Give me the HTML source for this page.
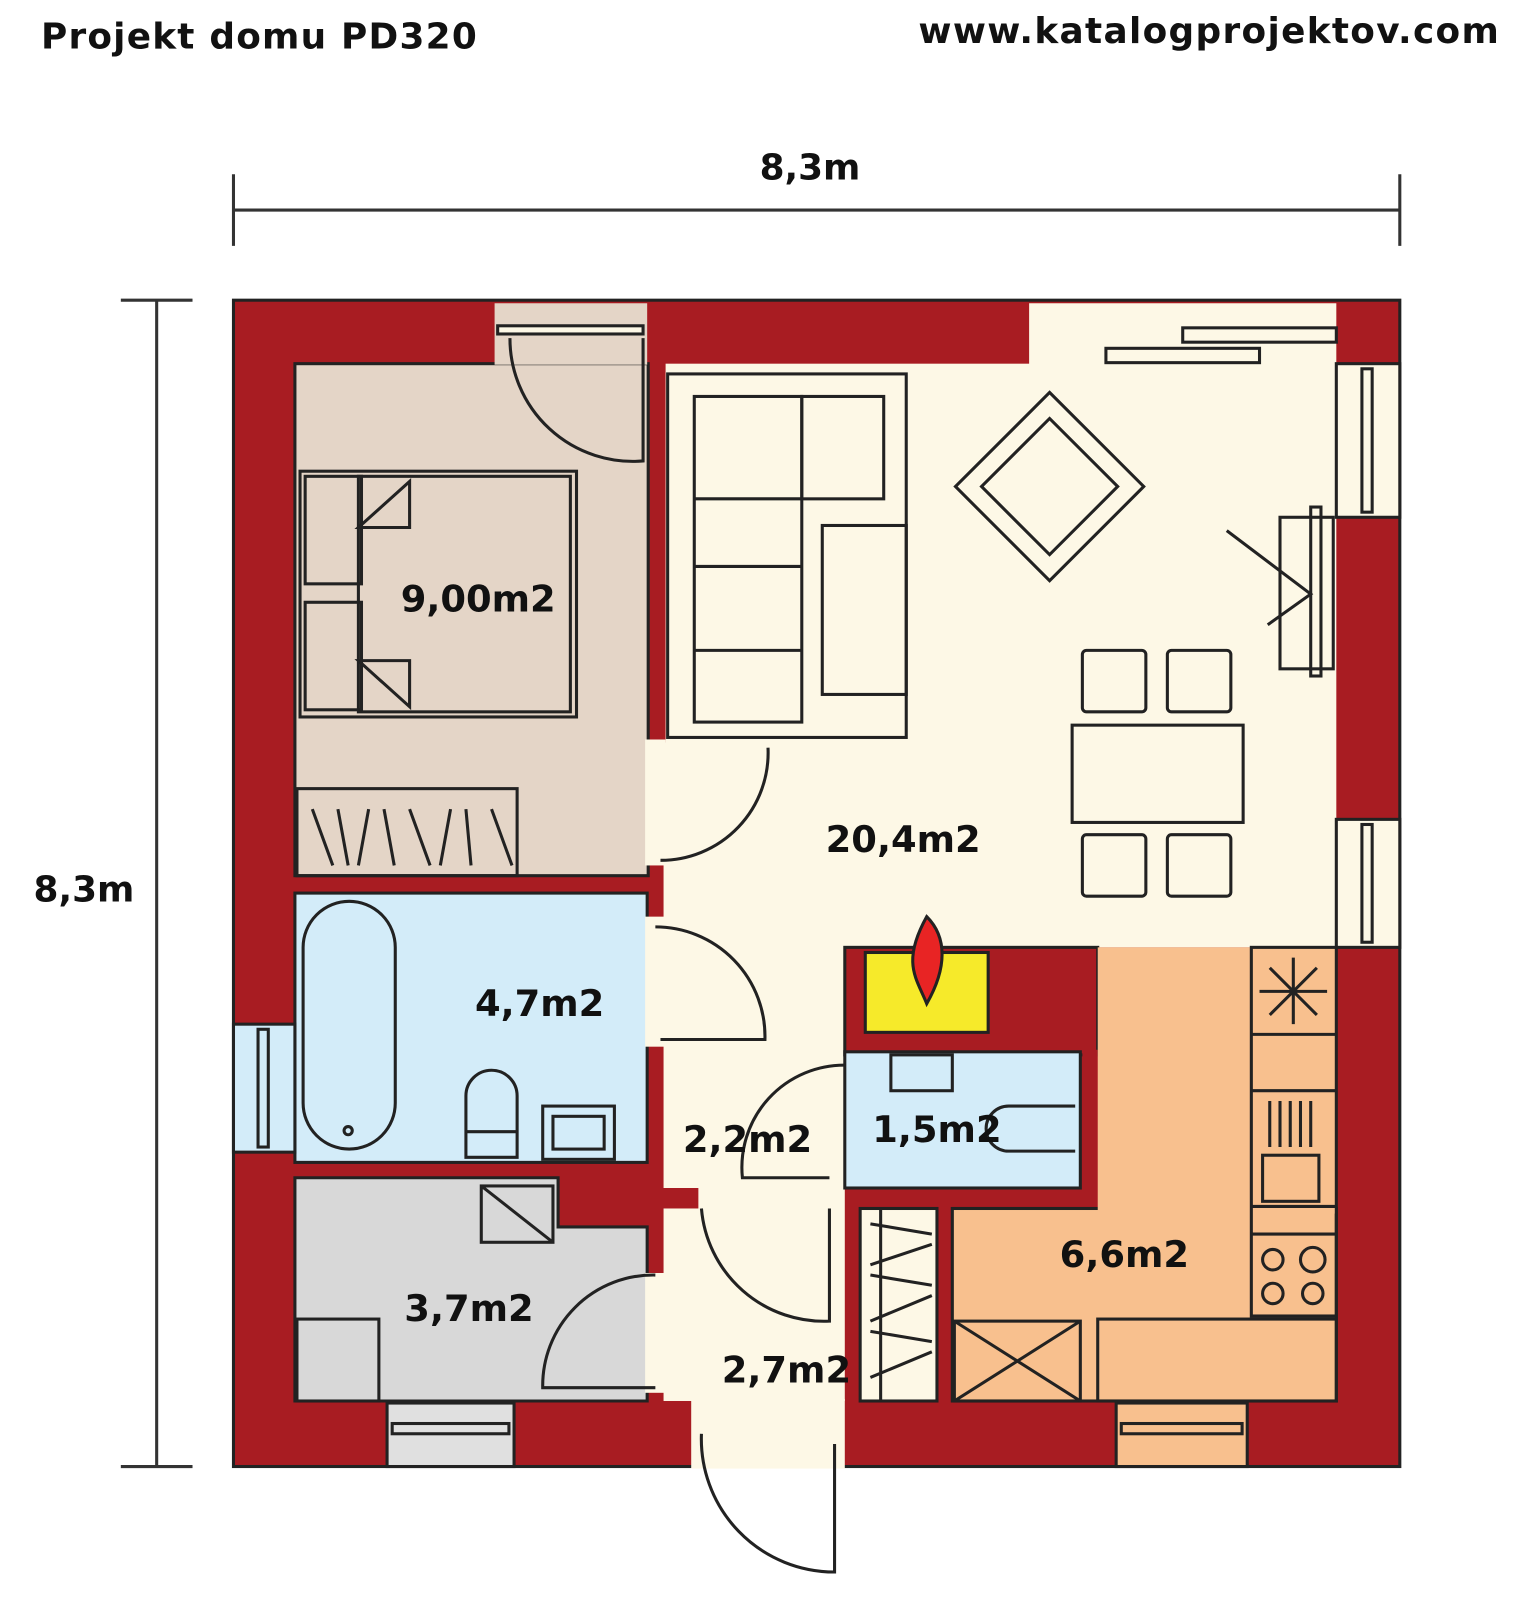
<!DOCTYPE html>
<html><head><meta charset="utf-8"><style>
html,body{margin:0;padding:0;background:#fff;width:1536px;height:1608px;overflow:hidden}
svg{display:block}
text{font-family:"DejaVu Sans","Liberation Sans",sans-serif;font-weight:bold;fill:#111}
</style></head><body>
<svg width="1536" height="1608" viewBox="0 0 1500 1570" xmlns="http://www.w3.org/2000/svg">
<rect width="1500" height="1570" fill="#fff"/>
<text x="40" y="47" font-size="35" letter-spacing="1.2">Projekt domu PD320</text>
<text x="1465" y="42" font-size="35" letter-spacing="1.3" text-anchor="end">www.katalogprojektov.com</text>
<!-- dimensions -->
<g stroke="#333" stroke-width="3">
<line x1="228" y1="205" x2="1367" y2="205"/><line x1="228" y1="170" x2="228" y2="240"/><line x1="1367" y1="170" x2="1367" y2="240"/>
<line x1="153" y1="293" x2="153" y2="1432"/><line x1="118" y1="293" x2="188" y2="293"/><line x1="118" y1="1432" x2="188" y2="1432"/>
</g>
<text x="791" y="175" font-size="35" text-anchor="middle">8,3m</text>
<text x="82" y="880" font-size="35" text-anchor="middle">8,3m</text>

<rect x="228" y="293" width="1139" height="1139" fill="#a81c22" stroke="#222" stroke-width="3"/>
<rect x="650" y="355" width="655" height="570" fill="#fdf8e6"/>
<rect x="1005" y="296" width="300" height="60" fill="#fdf8e6"/>
<rect x="648" y="725" width="177" height="643" fill="#fdf8e6"/>
<rect x="675" y="1366" width="150" height="68" fill="#fdf8e6"/>
<rect x="632" y="1160" width="50" height="20" fill="#a81c22"/>
<rect x="288" y="355" width="345" height="500" fill="#e4d5c7" stroke="#222" stroke-width="3"/>
<rect x="630" y="722" width="20" height="123" fill="#fdf8e6"/>
<rect x="483" y="296" width="149" height="60" fill="#e4d5c7"/>
<rect x="288" y="872" width="344" height="263" fill="#d3ecf9" stroke="#222" stroke-width="3"/>
<rect x="630" y="895" width="20" height="127" fill="#fdf8e6"/>
<path d="M288 1150 H545 V1198 H632 V1368 H288 Z" fill="#d8d8d8" stroke="#222" stroke-width="3"/>
<rect x="630" y="1243" width="20" height="117" fill="#fdf8e6"/>
<rect x="825" y="925" width="247" height="105" fill="#a81c22" stroke="#222" stroke-width="3"/>
<rect x="845" y="930" width="120" height="78" fill="#f6ea2a" stroke="#222" stroke-width="3"/>
<path d="M905 895 C925 915 925 945 905 980 C895 955 880 940 905 895Z" fill="#e82424" stroke="#222" stroke-width="3"/>
<rect x="825" y="1027" width="230" height="133" fill="#d3ecf9" stroke="#222" stroke-width="3"/>
<rect x="1057" y="1025" width="15" height="140" fill="#a81c22"/>
<rect x="930" y="1180" width="375" height="188" fill="#f8c08e" stroke="#222" stroke-width="3"/>
<rect x="1072" y="925" width="233" height="260" fill="#f8c08e"/>
<rect x="840" y="1180" width="75" height="188" fill="#fdf8e6" stroke="#222" stroke-width="3"/>
<g fill="#fdf8e6" stroke="#222" stroke-width="3">
<rect x="1305" y="355" width="62" height="150"/><rect x="1330" y="360" width="10" height="140"/>
<rect x="1305" y="800" width="62" height="125"/><rect x="1330" y="805" width="10" height="115"/>
<rect x="228" y="1000" width="60" height="125" fill="#d3ecf9"/><rect x="252" y="1005" width="10" height="115" fill="#d3ecf9"/>
<rect x="378" y="1370" width="124" height="62" fill="#e0e0e0"/><rect x="383" y="1390" width="114" height="10" fill="#e0e0e0"/>
<rect x="1090" y="1370" width="128" height="62" fill="#f8c08e"/><rect x="1095" y="1390" width="118" height="10" fill="#f8c08e"/>
<rect x="1080" y="340" width="150" height="14"/><rect x="1155" y="320" width="150" height="14"/>
<rect x="486" y="318" width="142" height="8"/>
</g>
<g fill="none" stroke="#222" stroke-width="3">
<path d="M628 330 V450 A120 120 0 0 1 498 330"/>
<rect x="293" y="460" width="270" height="240"/><rect x="350" y="465" width="207" height="230"/>
<rect x="298" y="465" width="55" height="105"/><rect x="298" y="588" width="55" height="105"/>
<path d="M350 515 L400 470 V515Z M350 645 L400 690 V645Z"/>
<rect x="290" y="770" width="215" height="85"/>
<path d="M305 790 L325 845 M330 790 L340 845 M360 790 L350 845 M375 790 L385 845 M400 790 L420 845 M440 790 L430 845 M455 790 L460 845 M480 790 L500 845"/>
<rect x="652" y="365" width="233" height="355"/><rect x="678" y="387" width="105" height="318"/><rect x="783" y="387" width="80" height="100"/>
<path d="M678 487 H783 M678 553 H783 M678 635 H783"/>
<rect x="803" y="513" width="82" height="165"/>
<rect x="960" y="410" width="130" height="130" transform="rotate(45 1025 475)"/>
<rect x="978" y="428" width="94" height="94" transform="rotate(45 1025 475)"/>
<rect x="1250" y="505" width="52" height="148"/><rect x="1280" y="495" width="10" height="165"/>
<path d="M1198 518 L1280 580 L1238 610"/>
<rect x="1047" y="708" width="167" height="95"/>
<rect x="1057" y="635" width="62" height="60" rx="4"/><rect x="1140" y="635" width="62" height="60" rx="4"/>
<rect x="1057" y="815" width="62" height="60" rx="4"/><rect x="1140" y="815" width="62" height="60" rx="4"/>
<path d="M645 840 A105 105 0 0 0 750 730"/>
<path d="M640 905 A107 107 0 0 1 747 1015 H645"/>
<rect x="296" y="880" width="90" height="242" rx="45"/>
<circle cx="340" cy="1104" r="4"/>
<path d="M455 1130 V1070 A25 25 0 0 1 505 1070 V1130 Z M455 1105 H505"/>
<rect x="530" y="1080" width="70" height="52"/><rect x="540" y="1090" width="50" height="32"/>
<rect x="470" y="1158" width="70" height="55"/><path d="M470 1158 L540 1213"/>
<rect x="290" y="1288" width="80" height="80"/>
<path d="M640 1245 A108 108 0 0 0 530 1355 H640"/>
<path d="M685 1180 A120 120 0 0 0 810 1290 V1180"/>
<path d="M825 1040 A100 100 0 0 0 725 1150 H810"/>
<path d="M685 1400 A130 130 0 0 0 815 1535 V1410"/>
<rect x="870" y="1030" width="60" height="35"/>
<path d="M1050 1080 H985 A22 22 0 0 0 985 1124 H1050"/>
<rect x="1222" y="925" width="83" height="360"/>
<path d="M1222 1010 H1305 M1222 1065 H1305 M1222 1178 H1305 M1222 1205 H1305"/>
<path d="M1263 935 V1000 M1230 968 H1296 M1240 945 L1286 991 M1286 945 L1240 991"/>
<path d="M1240 1075 V1120 M1250 1075 V1120 M1260 1075 V1120 M1270 1075 V1120 M1280 1075 V1120"/>
<rect x="1233" y="1128" width="55" height="45"/>
<circle cx="1243" cy="1230" r="10"/><circle cx="1282" cy="1230" r="12"/><circle cx="1243" cy="1263" r="10"/><circle cx="1282" cy="1263" r="10"/>
<rect x="932" y="1290" width="123" height="78"/><path d="M932 1290 L1055 1368 M1055 1290 L932 1368"/>
<rect x="1072" y="1288" width="233" height="80"/>
<path d="M850 1195 L910 1205 M850 1235 L910 1215 M850 1245 L910 1255 M850 1290 L910 1265 M850 1300 L910 1310 M850 1345 L910 1320 M860 1180 V1368"/>
</g>
<text x="467" y="597" font-size="36" text-anchor="middle">9,00m2</text>
<text x="882" y="832" font-size="36" text-anchor="middle">20,4m2</text>
<text x="527" y="992" font-size="36" text-anchor="middle">4,7m2</text>
<text x="730" y="1125" font-size="36" text-anchor="middle">2,2m2</text>
<text x="915" y="1115" font-size="36" text-anchor="middle">1,5m2</text>
<text x="1098" y="1237" font-size="36" text-anchor="middle">6,6m2</text>
<text x="458" y="1290" font-size="36" text-anchor="middle">3,7m2</text>
<text x="768" y="1350" font-size="36" text-anchor="middle">2,7m2</text>
</svg>
</body></html>
